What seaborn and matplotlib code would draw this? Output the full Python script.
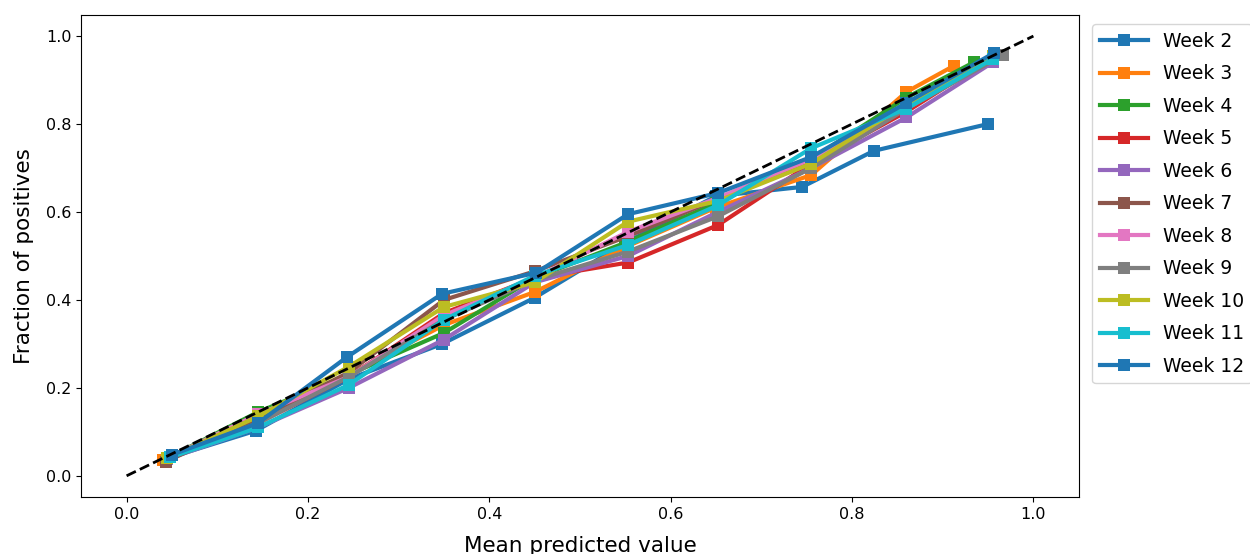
import matplotlib
matplotlib.use("Agg")
import matplotlib.pyplot as plt
import seaborn as sns
import pandas as pd

weeks = ["Week 2", "Week 3", "Week 4", "Week 5", "Week 6", "Week 7",
         "Week 8", "Week 9", "Week 10", "Week 11", "Week 12"]

mean_pred = {
    "Week 2":  [0.045, 0.143, 0.245, 0.348, 0.450, 0.550, 0.650, 0.745, 0.824, 0.950],
    "Week 3":  [0.040, 0.145, 0.245, 0.350, 0.450, 0.550, 0.650, 0.755, 0.860, 0.912],
    "Week 4":  [0.045, 0.145, 0.245, 0.350, 0.450, 0.550, 0.650, 0.755, 0.860, 0.934],
    "Week 5":  [0.045, 0.145, 0.245, 0.350, 0.450, 0.553, 0.652, 0.755, 0.860, 0.955],
    "Week 6":  [0.045, 0.145, 0.245, 0.350, 0.450, 0.553, 0.652, 0.755, 0.860, 0.955],
    "Week 7":  [0.043, 0.145, 0.245, 0.350, 0.450, 0.553, 0.652, 0.755, 0.860, 0.955],
    "Week 8":  [0.045, 0.145, 0.245, 0.350, 0.450, 0.553, 0.652, 0.755, 0.860, 0.955],
    "Week 9":  [0.045, 0.145, 0.245, 0.350, 0.450, 0.553, 0.652, 0.755, 0.860, 0.967],
    "Week 10": [0.045, 0.145, 0.245, 0.350, 0.450, 0.553, 0.652, 0.755, 0.860, 0.955],
    "Week 11": [0.048, 0.145, 0.245, 0.350, 0.450, 0.553, 0.652, 0.755, 0.860, 0.955],
    "Week 12": [0.050, 0.145, 0.243, 0.348, 0.452, 0.553, 0.652, 0.755, 0.860, 0.956],
}

frac_pos = {
    "Week 2":  [0.040, 0.103, 0.220, 0.300, 0.405, 0.530, 0.636, 0.657, 0.739, 0.800],
    "Week 3":  [0.036, 0.125, 0.230, 0.343, 0.418, 0.520, 0.610, 0.684, 0.873, 0.932],
    "Week 4":  [0.040, 0.145, 0.230, 0.325, 0.450, 0.530, 0.620, 0.720, 0.860, 0.940],
    "Week 5":  [0.040, 0.120, 0.225, 0.370, 0.450, 0.485, 0.570, 0.710, 0.828, 0.952],
    "Week 6":  [0.038, 0.110, 0.200, 0.310, 0.440, 0.500, 0.600, 0.700, 0.815, 0.940],
    "Week 7":  [0.032, 0.130, 0.235, 0.400, 0.465, 0.545, 0.630, 0.710, 0.840, 0.955],
    "Week 8":  [0.040, 0.140, 0.225, 0.365, 0.450, 0.555, 0.632, 0.720, 0.835, 0.950],
    "Week 9":  [0.040, 0.120, 0.225, 0.355, 0.445, 0.510, 0.590, 0.700, 0.835, 0.957],
    "Week 10": [0.040, 0.135, 0.248, 0.384, 0.440, 0.578, 0.625, 0.710, 0.845, 0.955],
    "Week 11": [0.042, 0.110, 0.207, 0.355, 0.455, 0.525, 0.615, 0.745, 0.835, 0.948],
    "Week 12": [0.048, 0.120, 0.270, 0.414, 0.462, 0.595, 0.643, 0.725, 0.848, 0.961],
}

colors = ["#1f77b4", "#ff7f0e", "#2ca02c", "#d62728", "#9467bd", "#8c564b",
          "#e377c2", "#7f7f7f", "#bcbd22", "#17becf", "#1f77b4"]

rows = []
for w in weeks:
    for i, (xv, yv) in enumerate(zip(mean_pred[w], frac_pos[w])):
        rows.append({"week": w, "order": i, "x": xv, "y": yv})
df = pd.DataFrame(rows)

fig = plt.figure(figsize=(12.5, 5.54), dpi=100)
ax = fig.add_axes([0.065, 0.103, 0.798, 0.870])

sns.lineplot(data=df, x="x", y="y", hue="week", hue_order=weeks,
             palette=colors, marker="s", markersize=9, markeredgewidth=0,
             linewidth=3, sort=False, estimator=None, ax=ax)

ax.plot([0, 1], [0, 1], "k--", linewidth=2, zorder=5)

ax.set_xlim(-0.05, 1.05)
ax.set_ylim(-0.048, 1.048)
ax.set_xticks([0.0, 0.2, 0.4, 0.6, 0.8, 1.0])
ax.set_yticks([0.0, 0.2, 0.4, 0.6, 0.8, 1.0])
ax.tick_params(labelsize=11.5)
ax.set_xlabel("Mean predicted value", fontsize=15.5, labelpad=10)
ax.set_ylabel("Fraction of positives", fontsize=15.5, labelpad=9)

sns.move_legend(ax, "upper left", bbox_to_anchor=(1.004, 1.0), title=None,
                fontsize=13.5, frameon=True, labelspacing=0.72,
                handlelength=2.6)

fig.savefig("out.png", dpi=100)
